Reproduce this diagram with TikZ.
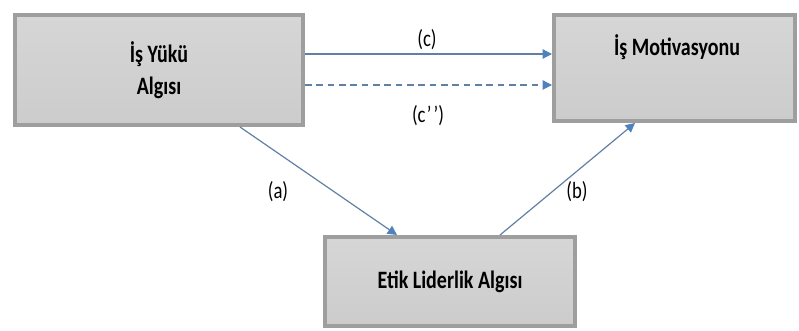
\documentclass[tikz,border=0pt]{standalone}
\usepackage{fontspec}
\setmainfont{Carlito}
\usetikzlibrary{arrows.meta,shadows}

\definecolor{boxgray}{RGB}{158,158,158}
\definecolor{boxfill}{RGB}{204,204,204}
\definecolor{boxtop}{RGB}{214,214,214}
\definecolor{linkblue}{RGB}{79,129,189}
\definecolor{linkgray}{RGB}{96,128,164}

\tikzset{every picture/.style={line width=0.75pt}}
\tikzset{
  varbox/.style={draw=boxgray, line width=3pt, top color=boxtop, bottom color=boxfill,
    drop shadow={shadow xshift=1.5pt, shadow yshift=-1.5pt, opacity=0.15},
    align=center, inner sep=0pt, font=\fontsize{15}{22}\selectfont\bfseries},
  link/.style={draw=linkgray, line width=0.9pt, -{Triangle[length=7pt,width=7pt,fill=linkblue,color=linkblue]}},
  pathlabel/.style={inner sep=0.75pt, font=\fontsize{14}{16}\selectfont}
}

\begin{document}
\begin{tikzpicture}[x=0.75pt,y=0.75pt,yscale=-1,xscale=1]
\useasboundingbox (0,0) rectangle (799,331);

%Shape: Rectangle [id:yuk]
\node [varbox, minimum width=216pt, minimum height=82.5pt] (yuk) at (159,70) {\scalebox{1}[1.25]{İş Yükü}\\[2pt]\scalebox{1}[1.25]{Algısı}};
%Shape: Rectangle [id:mot]
\node [varbox, minimum width=180.75pt, minimum height=79.5pt] (mot) at (674.5,68) {};
% Text Node
\node [inner sep=0.75pt, font=\fontsize{15}{18}\selectfont\bfseries] (motlabel) at (677,47) {\scalebox{1}[1.25]{İş Motivasyonu}};
%Shape: Rectangle [id:etik]
\node [varbox, minimum width=187.5pt, minimum height=66.75pt] (etik) at (450,281.5) {\scalebox{1}[1.25]{Etik Liderlik Algısı}};

%Straight Lines [id:c]
\draw [link] (yuk.east |- 0,54) -- (mot.west |- 0,54) ;
%Straight Lines [id:cc]
\draw [link, dash pattern={on 5pt off 3.5pt}] (yuk.east |- 0,85) -- (mot.west |- 0,85) ;
%Straight Lines [id:a]
\draw [link] (240,0 |- yuk.south) -- (397,0 |- etik.north) ;
%Straight Lines [id:b]
\draw [link] (500,0 |- etik.north) -- (635,0 |- mot.south) ;

% Text Node
\node [pathlabel] (labc) at (427,40) {\scalebox{1}[1.25]{(c)}};
% Text Node
\node [pathlabel] (labcc) at (428,116) {\scalebox{1}[1.25]{(c\kern1pt'\kern1.5pt')}};
% Text Node
\node [pathlabel] (laba) at (278,192) {\scalebox{1}[1.25]{(a)}};
% Text Node
\node [pathlabel] (labb) at (577,192) {\scalebox{1}[1.25]{(b)}};

\end{tikzpicture}
\end{document}
